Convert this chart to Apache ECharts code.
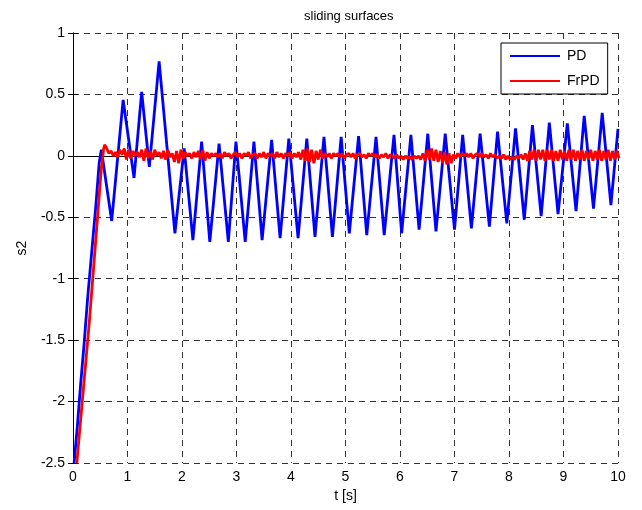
<!DOCTYPE html>
<html>
<head>
<meta charset="utf-8">
<script src="https://cdn.jsdelivr.net/npm/echarts@6/dist/echarts.min.js"></script>
<style>
  html, body { margin: 0; padding: 0; background: #fff; }
  #echart-box { width: 642px; height: 510px; }
</style>
</head>
<body>
<div id="echart-box"></div>
<script>
// PD: turning points [t, s2]
var pdPoints = [
  [0.02, -2.5], [0.08, -2.2], [0.14, -1.86], [0.2, -1.55], [0.27, -1.15], [0.34, -0.8],
  [0.42, -0.4], [0.48, -0.06], [0.52, 0.05],
  [0.71, -0.53], [0.92, 0.455], [1.12, -0.18], [1.26, 0.52], [1.40, -0.09], [1.58, 0.77],
  [1.87, -0.63], [2.04, 0.06], [2.20, -0.685], [2.36, 0.115], [2.51, -0.70], [2.68, 0.10],
  [2.85, -0.70], [2.99, 0.115], [3.16, -0.70], [3.32, 0.115], [3.47, -0.685], [3.645, 0.13],
  [3.80, -0.67], [3.96, 0.14], [4.13, -0.67], [4.29, 0.14], [4.44, -0.66], [4.605, 0.155],
  [4.76, -0.66], [4.92, 0.155], [5.07, -0.63], [5.24, 0.16], [5.39, -0.645], [5.56, 0.155],
  [5.71, -0.645], [5.89, 0.17], [6.03, -0.63], [6.20, 0.17], [6.35, -0.60], [6.51, 0.18],
  [6.66, -0.615], [6.83, 0.18], [7.0, -0.60], [7.15, 0.17], [7.31, -0.59], [7.47, 0.18],
  [7.64, -0.576], [7.79, 0.197], [7.96, -0.55], [8.12, 0.224], [8.28, -0.52], [8.43, 0.25],
  [8.59, -0.49], [8.74, 0.27], [8.9, -0.475], [9.07, 0.265], [9.23, -0.45], [9.38, 0.325],
  [9.55, -0.43], [9.71, 0.35], [9.87, -0.40], [10.0, 0.22]
];

// FrPD: the ramp, then the chattering part sampled every 0.04 s from t = 0.66
var frpdRamp = [
  [0.07, -2.5], [0.15, -2.1], [0.22, -1.75], [0.3, -1.35], [0.38, -0.9], [0.45, -0.5],
  [0.52, -0.1], [0.56, 0.05], [0.58, 0.09], [0.61, 0.07], [0.63, 0.08]
];
var frpdStart = 0.66;
var frpdStep = 0.04;
var frpdChatter = [
  0.02, 0.04, 0.00, 0.03, -0.01, 0.05, 0.01, 0.06, -0.03, 0.05, -0.02, 0.04, 0.00, 0.03, -0.01, 0.05, -0.04, 0.06, -0.02, 0.04, -0.03, 0.05, 0.00, 0.03, -0.02,
  0.04, -0.03, 0.05, -0.01, 0.02, -0.05, 0.04, -0.06, 0.05, -0.02, 0.03, 0.00, 0.02, -0.02, 0.03, -0.01, 0.04, -0.03, 0.05, -0.04, 0.03, -0.02, 0.02, 0.00, 0.02,
  -0.01, 0.02, -0.02, 0.03, 0.00, 0.02, -0.02, 0.01, 0.03, -0.01, 0.02, -0.02, 0.02, 0.00, 0.03, -0.02, 0.01, 0.02, -0.02, 0.02, -0.01, 0.03, -0.02, 0.02, 0.00,
  0.02, -0.02, 0.03, -0.01, 0.02, -0.02, 0.02, 0.00, 0.03, -0.02, 0.02, -0.01, 0.03, -0.03, 0.05, -0.04, 0.06, -0.05, 0.05, -0.06, 0.04, -0.03, 0.05, -0.02, 0.02,
  -0.01, 0.02, -0.02, 0.02, 0.00, 0.02, -0.01, 0.02, -0.02, 0.01, 0.02, -0.01, 0.02, -0.02, 0.01, 0.02, -0.01, 0.01, -0.02, 0.02, 0.00, 0.02, -0.01, 0.01, -0.02,
  0.01, -0.01, 0.02, -0.02, 0.01, 0.00, -0.02, 0.01, -0.02, 0.00, -0.03, 0.00, -0.02, -0.01, -0.03, 0.00, -0.02, 0.00, -0.03, 0.02, -0.04, 0.05, -0.03, 0.06, -0.04,
  0.05, -0.05, 0.04, -0.06, 0.03, -0.07, 0.02, -0.06, 0.01, -0.02, 0.02, -0.01, 0.02, 0.00, 0.02, -0.01, 0.02, -0.02, 0.01, 0.02, -0.01, 0.02, -0.01, 0.01, -0.02,
  0.02, -0.01, 0.01, -0.02, 0.00, -0.02, 0.01, -0.03, 0.00, -0.03, -0.01, -0.03, 0.00, -0.02, 0.01, -0.03, 0.02, -0.04, 0.04, -0.03, 0.05, -0.04, 0.05, -0.03, 0.05,
  -0.04, 0.05, -0.03, 0.05, -0.04, 0.04, -0.04, 0.05, -0.03, 0.04, -0.04, 0.05, -0.03, 0.05, -0.04, 0.04, -0.03, 0.05, -0.04, 0.04, -0.03, 0.05, -0.04, 0.04, -0.03,
  0.05, -0.04, 0.04, -0.03, 0.05, -0.04, 0.04, -0.03, 0.04, -0.02
];

var xTicks = [0, 1, 2, 3, 4, 5, 6, 7, 8, 9, 10];
var yTicks = [-2.5, -2, -1.5, -1, -0.5, 0, 0.5, 1];

function init() {
  const element = document.getElementById("echart-box");
  const instance = echarts.init(element);

  var frpd = frpdRamp.slice();
  for (var i = 0; i < frpdChatter.length; i++) {
    frpd.push([+(frpdStart + i * frpdStep).toFixed(2), frpdChatter[i]]);
  }

  var font = 'Liberation Sans, Arial, sans-serif';
  var dash = { show: true, lineStyle: { color: '#333', width: 1, type: [6, 5] } };
  var edge = { show: true, lineStyle: { color: '#000', width: 1 } };
  var tick = { show: true, inside: true, length: 5, lineStyle: { color: '#000' } };

  var option = {
    animation: false,
    backgroundColor: '#fff',
    title: {
      text: 'sliding surfaces',
      left: 299,
      top: 5,
      textStyle: { fontFamily: font, fontSize: 13, fontWeight: 'normal', color: '#000' }
    },
    legend: {
      orient: 'vertical',
      left: 501,
      top: 43,
      width: 90,
      padding: [6, 8, 6, 9],
      itemGap: 11,
      itemWidth: 50,
      itemHeight: 2,
      icon: 'rect',
      backgroundColor: '#fff',
      borderColor: '#000',
      borderWidth: 1,
      borderRadius: 0,
      textStyle: { fontFamily: font, fontSize: 14, color: '#000', padding: [0, 0, 0, 2] },
      data: ['PD', 'FrPD']
    },
    grid: { left: 73, right: 24, top: 33, bottom: 47 },
    xAxis: [
      {
        type: 'value', min: xTicks[0], max: xTicks[xTicks.length - 1], interval: 1,
        name: 't [s]', nameLocation: 'middle', nameGap: 23,
        nameTextStyle: { fontFamily: font, fontSize: 14, color: '#000' },
        axisLine: edge, axisTick: tick, splitLine: dash,
        axisLabel: { fontFamily: font, fontSize: 14, color: '#000', margin: 7 }
      },
      {
        type: 'value', position: 'top', min: 0, max: 10, interval: 1,
        axisLine: edge, axisTick: tick, axisLabel: { show: false }, splitLine: { show: false }
      }
    ],
    yAxis: [
      {
        type: 'value', min: yTicks[0], max: yTicks[yTicks.length - 1], interval: 0.5,
        name: 's2', nameLocation: 'middle', nameGap: 44,
        nameTextStyle: { fontFamily: font, fontSize: 14, color: '#000' },
        axisLine: edge, axisTick: tick, splitLine: dash,
        axisLabel: { fontFamily: font, fontSize: 14, color: '#000', margin: 8 }
      },
      {
        type: 'value', position: 'right', min: -2.5, max: 1, interval: 0.5,
        axisLine: edge, axisTick: tick, axisLabel: { show: false }, splitLine: { show: false }
      }
    ],
    series: [
      {
        name: 'PD', type: 'line', data: pdPoints, showSymbol: false,
        lineStyle: { color: '#0000ff', width: 2.8 }, itemStyle: { color: '#0000ff' }
      },
      {
        name: 'FrPD', type: 'line', data: frpd, showSymbol: false,
        lineStyle: { color: '#ff0000', width: 2.8 }, itemStyle: { color: '#ff0000' }
      }
    ]
  };
  instance.setOption(option);

  window.onresize = function () {
    instance.resize();
  };
}
init();
</script>
</body>
</html>
